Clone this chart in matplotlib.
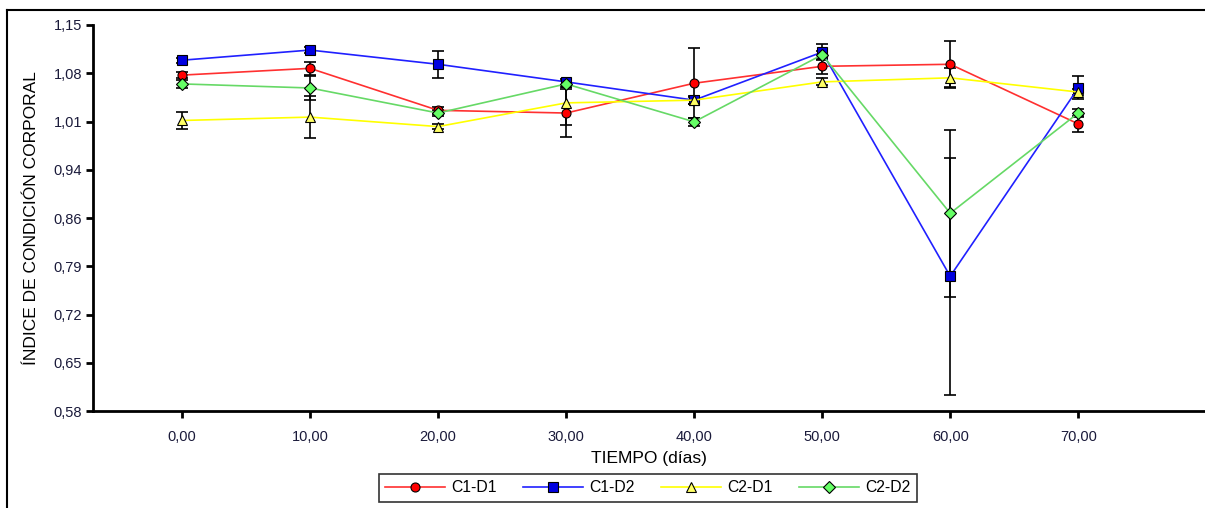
import matplotlib
matplotlib.use("Agg")
import matplotlib.pyplot as plt
from matplotlib.lines import Line2D
from matplotlib.ticker import FixedLocator, FuncFormatter
import numpy as np

plt.rcParams["font.family"] = ["Liberation Sans", "DejaVu Sans"]

# data
dias = [0, 10, 20, 30, 40, 50, 60, 70]
xtick_labels = ["0,00", "10,00", "20,00", "30,00", "40,00", "50,00", "60,00", "70,00"]

c1_d1 = [1.076, 1.086, 1.024, 1.020, 1.064, 1.089, 1.092, 1.004]
c1_d1_err = [0.005, 0.010, 0.005, 0.035, 0.052, 0.012, 0.034, 0.012]
c1_d2 = [1.098, 1.113, 1.092, 1.066, 1.039, 1.110, 0.779, 1.057]
c1_d2_err = [0.004, 0.004, 0.020, 0.004, 0.005, 0.012, 0.175, 0.017]
c2_d1 = [1.009, 1.014, 1.000, 1.035, 1.039, 1.066, 1.072, 1.051]
c2_d1_err = [0.012, 0.031, 0.004, 0.032, 0.006, 0.005, 0.015, 0.005]
c2_d2 = [1.063, 1.057, 1.020, 1.063, 1.007, 1.106, 0.872, 1.020]
c2_d2_err = [0.006, 0.018, 0.005, 0.005, 0.006, 0.006, 0.123, 0.006]

ytick_vals = np.linspace(0.58, 1.15, 9)

series = [
    ("C1-D1", c1_d1, c1_d1_err, "#ff3030", "o", "#ff0000", 6.5),
    ("C1-D2", c1_d2, c1_d2_err, "#2020ff", "s", "#0000e0", 7),
    ("C2-D1", c2_d1, c2_d1_err, "#ffff00", "^", "#ffff66", 7.5),
    ("C2-D2", c2_d2, c2_d2_err, "#66d966", "D", "#66ff66", 6),
]

fig = plt.figure(figsize=(12.05, 5.08), dpi=100)
ax = fig.add_axes([93 / 1205, 1 - 411 / 508, 1 - 93 / 1205, (411 - 25) / 508])

for name, vals, err, col, mk, fc, ms in series:
    ax.errorbar(dias, vals, yerr=err, fmt="none", ecolor="black",
                elinewidth=1.2, capsize=4, capthick=1.2, zorder=2)
handles = []
for name, vals, err, col, mk, fc, ms in series:
    ax.plot(dias, vals, color=col, lw=1.2, marker=mk, ms=ms,
            markerfacecolor=fc, markeredgecolor="black",
            markeredgewidth=0.8, zorder=3, label=name)
    handles.append(Line2D([0], [0], color=col, lw=1.2, marker=mk, ms=ms,
                          markerfacecolor=fc, markeredgecolor="black",
                          markeredgewidth=0.8))

ax.set_xlim(-6.95, 79.9)
ax.set_ylim(0.58, 1.15)
ax.xaxis.set_major_locator(FixedLocator(dias))
ax.set_xticklabels(xtick_labels)
ax.yaxis.set_major_locator(FixedLocator(ytick_vals))
ax.yaxis.set_major_formatter(FuncFormatter(lambda v, p: ("%.2f" % v).replace(".", ",")))

for s in ["top", "right"]:
    ax.spines[s].set_visible(False)
for s in ["left", "bottom"]:
    ax.spines[s].set_linewidth(2)
ax.tick_params(axis="both", direction="out", length=5, width=2,
               labelsize=10.5, labelcolor="#1a1a3a", pad=3)
ax.tick_params(axis="x", pad=9)

ax.set_xlabel("TIEMPO (días)", fontsize=12.5, labelpad=5)
ax.set_ylabel("ÍNDICE DE CONDICIÓN CORPORAL", fontsize=12.5, labelpad=10)

leg = fig.legend(handles, ["C1-D1", "C1-D2", "C2-D1", "C2-D2"], loc="center",
                 bbox_to_anchor=(648 / 1205, 1 - 488 / 508), ncol=4,
                 frameon=True, fancybox=False, fontsize=11.3, handlelength=3.8,
                 columnspacing=1.7, borderpad=0.4, handletextpad=0.4)
leg.get_frame().set_edgecolor("black")
leg.get_frame().set_linewidth(1.2)

# outer frame (left and top edges visible)
fig.add_artist(Line2D([7 / 1205, 7 / 1205], [0, 1 - 10 / 508], color="black",
                      lw=1.5, transform=fig.transFigure))
fig.add_artist(Line2D([7 / 1205, 1], [1 - 10 / 508, 1 - 10 / 508], color="black",
                      lw=1.5, transform=fig.transFigure))

fig.savefig("out.png", dpi=100)
